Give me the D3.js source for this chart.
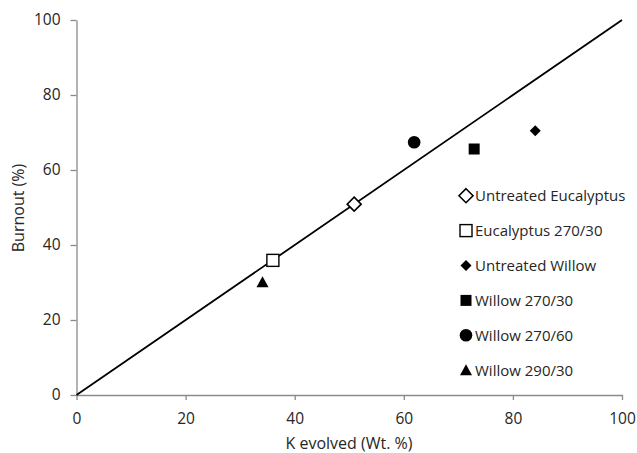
<!DOCTYPE html>
<html><head><meta charset="utf-8">
<script src="https://cdn.jsdelivr.net/npm/d3@7"></script>
<style>body{margin:0;background:#fff}svg{display:block}text{font-family:"Open Sans",sans-serif;fill:#262626}</style>
</head><body><svg id="c" width="637" height="453"></svg>
<script>
const seriesNames = ["Untreated Eucalyptus","Eucalyptus 270/30","Untreated Willow","Willow 270/30","Willow 270/60","Willow 290/30"];
const kEvolved = [50.9, 36.0, 84.1, 72.9, 61.9, 34.1];
const burnout = [50.9, 35.9, 70.5, 65.6, 67.4, 30.1];
const markers = ["diamondOpen","squareOpen","diamond","square","circle","triangle"];
const xTicks = [0,20,40,60,80,100];
const yTicks = [0,20,40,60,80,100];
const lineData = [[0,0],[100,100]];

const svg = d3.select("#c");
const x = d3.scaleLinear().domain([0,100]).range([76.5,622]);
const y = d3.scaleLinear().domain([0,100]).range([395,20]);
const axisColor = "#8a8a8a";

const gx = svg.append("g").attr("transform","translate(0,395)")
  .call(d3.axisBottom(x).tickValues(xTicks).tickSize(5).tickPadding(13).tickSizeOuter(0));
const gy = svg.append("g").attr("transform","translate(76.5,0)")
  .call(d3.axisLeft(y).tickValues(yTicks).tickSize(6).tickPadding(10).tickSizeOuter(0));
[gx,gy].forEach(g=>{
  g.select(".domain").attr("stroke",axisColor).attr("stroke-width",1.3);
  g.selectAll(".tick line").attr("stroke",axisColor).attr("stroke-width",1.3);
  g.selectAll(".tick text").attr("font-size",15.5).attr("fill","#262626").style("font-family","'Open Sans'");
});

svg.append("path").datum(lineData)
  .attr("d", d3.line().x(d=>x(d[0])).y(d=>y(d[1])))
  .attr("stroke","#000").attr("stroke-width",1.8).attr("fill","none");

function drawMarker(g, type){
  if(type==="diamondOpen") g.append("path").attr("d","M0,-7L7,0L0,7L-7,0Z").attr("fill","#fff").attr("stroke","#000").attr("stroke-width",1.6);
  else if(type==="squareOpen") g.append("rect").attr("x",-6).attr("y",-6).attr("width",12).attr("height",12).attr("fill","#fff").attr("stroke","#000").attr("stroke-width",1.4);
  else if(type==="diamond") g.append("path").attr("d","M0,-5.5L5.5,0L0,5.5L-5.5,0Z").attr("fill","#000");
  else if(type==="square") g.append("rect").attr("x",-5.5).attr("y",-5.5).attr("width",11).attr("height",11).attr("fill","#000");
  else if(type==="circle") g.append("circle").attr("r",6.3).attr("fill","#000");
  else if(type==="triangle") g.append("path").attr("d","M0,-6L6,5L-6,5Z").attr("fill","#000");
}

seriesNames.forEach((n,i)=>{
  const g = svg.append("g").attr("transform",`translate(${x(kEvolved[i])},${y(burnout[i])})`);
  drawMarker(g, markers[i]);
});

// legend
const leg = svg.append("g");
seriesNames.forEach((n,i)=>{
  const cy = 195.7 + i*34.9;
  const g = leg.append("g").attr("transform",`translate(466,${cy})`);
  drawMarker(g, markers[i]);
  leg.append("text").attr("x",475).attr("y",cy).attr("dy","0.36em").attr("font-size",15).text(n);
});

svg.append("text").attr("x",349).attr("y",449).attr("text-anchor","middle").attr("font-size",16).text("K evolved (Wt. %)");
svg.append("text").attr("transform","translate(24,208) rotate(-90)").attr("text-anchor","middle").attr("font-size",16).text("Burnout (%)");
</script></body></html>
